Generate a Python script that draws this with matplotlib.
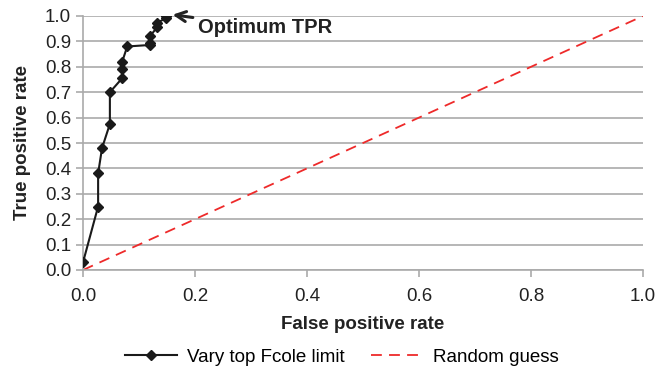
import matplotlib
matplotlib.use('Agg')
import matplotlib.pyplot as plt

plt.rcParams['font.family'] = ['Liberation Sans', 'DejaVu Sans']

# ROC points
fpr = [0.0, 0.027, 0.027, 0.034, 0.048, 0.048, 0.07, 0.07, 0.07, 0.079,
       0.12, 0.12, 0.12, 0.133, 0.133, 0.148, 0.148]
tpr = [0.03, 0.25, 0.38, 0.48, 0.575, 0.70, 0.755, 0.79, 0.82, 0.88,
       0.886, 0.894, 0.921, 0.958, 0.974, 0.991, 1.0]
guess = [0.0, 1.0]
ticks = [0.0, 0.2, 0.4, 0.6, 0.8, 1.0]
yticks = [i / 10 for i in range(11)]

fig = plt.figure(figsize=(6.57, 3.75), dpi=100)
ax = fig.add_axes([83 / 657, 105 / 375, 560 / 657, 254 / 375])

ax.plot(fpr, tpr, '-', color='#1a1a1a', lw=1.5, marker='D', ms=5.5,
        label='Vary top Fcole limit', zorder=3)
ax.plot(guess, guess, '--', color='#ee2a2a', lw=1.3, dashes=(6, 4),
        label='Random guess', zorder=2)

ax.set_xlim(0, 1)
ax.set_ylim(0, 1)
ax.set_xticks(ticks)
ax.set_yticks(yticks)
ax.set_xticklabels([f'{t:.1f}' for t in ticks])
ax.set_yticklabels([f'{t:.1f}' for t in yticks])
ax.tick_params(labelsize=13.5, colors='#aaaaaa', labelcolor='#222222',
               length=5, width=1.2)
ax.tick_params(axis='x', pad=8)
ax.grid(axis='y', color='#aaaaaa', lw=1.2)
ax.set_axisbelow(True)
for s in ('top', 'right'):
    ax.spines[s].set_visible(False)
for s in ('left', 'bottom'):
    ax.spines[s].set_color('#aaaaaa')
    ax.spines[s].set_linewidth(1.2)

ax.set_xlabel('False positive rate', fontsize=13.5, fontweight='bold',
              color='#222222', labelpad=8)
ax.set_ylabel('True positive rate', fontsize=13.5, fontweight='bold',
              color='#222222', labelpad=10)

ax.annotate('Optimum TPR', xy=(0.16, 1.005), xytext=(0.206, 0.955),
            fontsize=14.5, fontweight='bold', color='#222222', va='center',
            ha='left', annotation_clip=False,
            arrowprops=dict(arrowstyle='->', color='#222222', lw=2.2,
                            mutation_scale=18, shrinkA=2, shrinkB=0))

fig.legend(loc='center', bbox_to_anchor=(0.52, 1 - 357 / 375), ncol=2,
           frameon=False, fontsize=13.5, handlelength=2.8,
           columnspacing=1.4, handletextpad=0.5)

fig.savefig('out.png', dpi=100)
